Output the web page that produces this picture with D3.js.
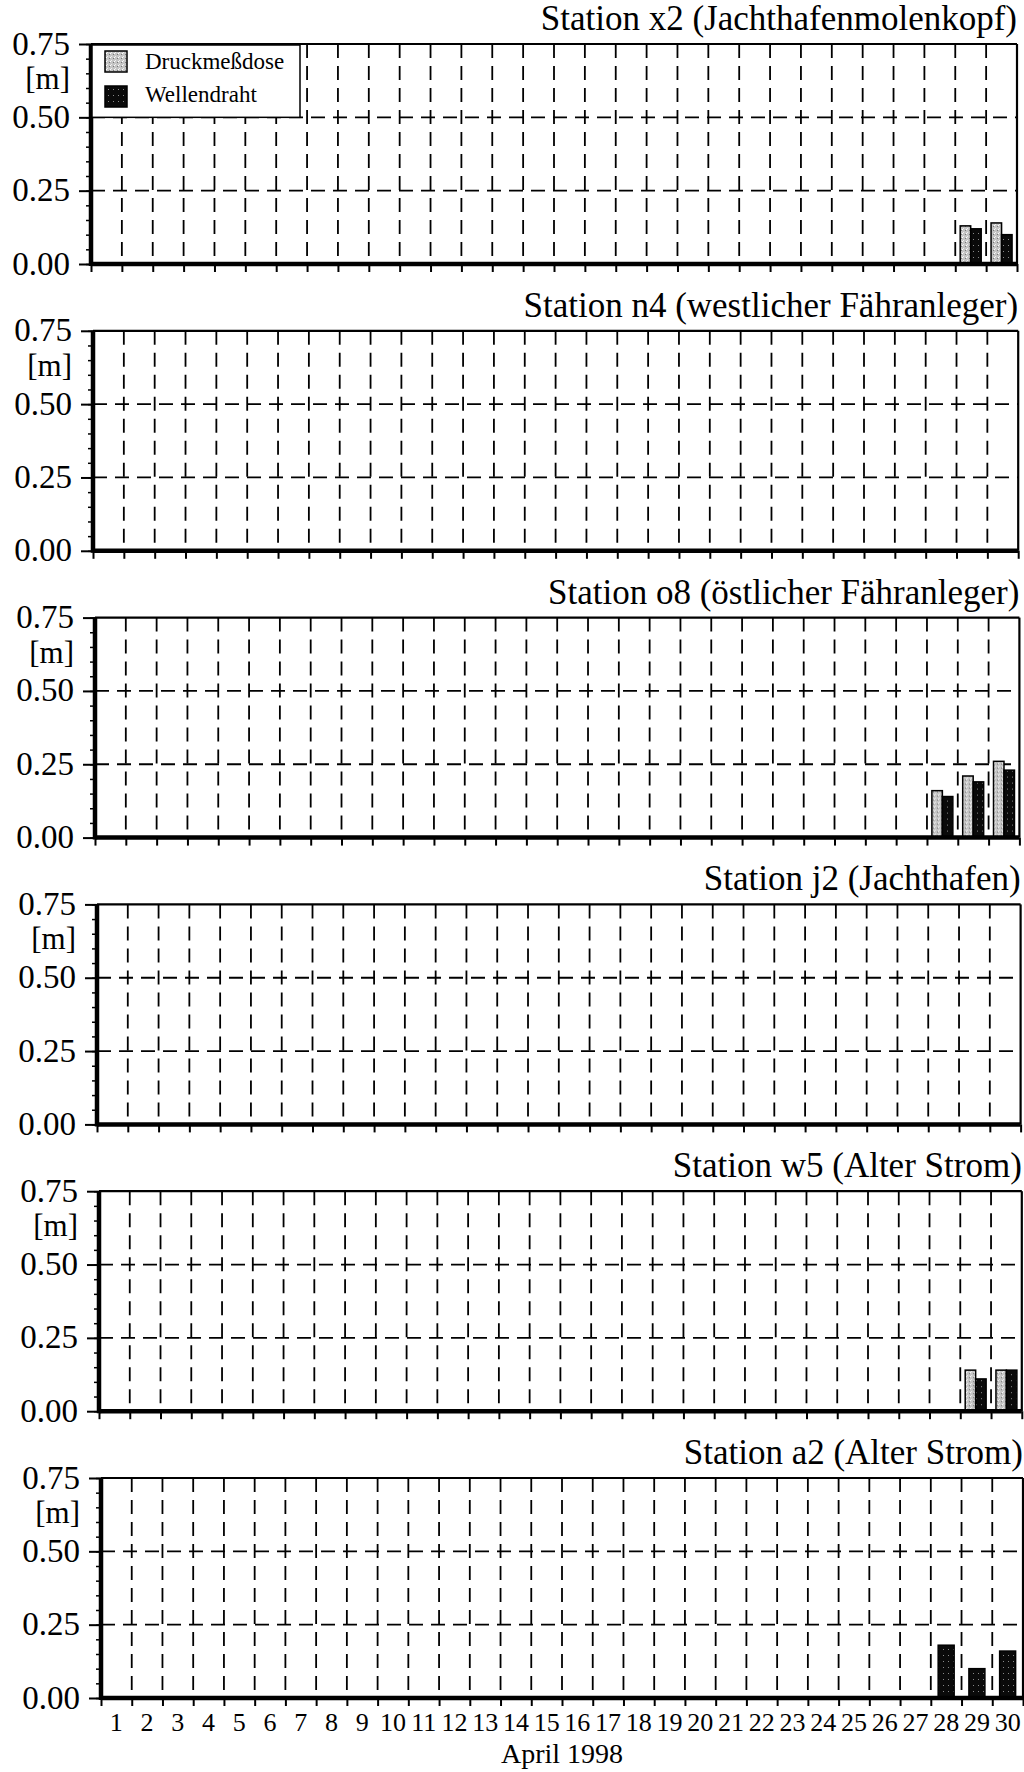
<!DOCTYPE html>
<html>
<head>
<meta charset="utf-8">
<script src="https://cdn.jsdelivr.net/npm/d3@7"></script>
<style>
  body { margin: 0; background: #fff; }
  svg { display: block; }
  text { font-family: "Liberation Serif", "Times New Roman", serif; fill: #000; }
</style>
</head>
<body>
<svg id="chart"></svg>
<script>
// days of April 1998
const days = d3.range(1, 31);
const barDays = [28, 29, 30];

const stations = [
    "Station x2 (Jachthafenmolenkopf)",
    "Station n4 (westlicher Fähranleger)",
    "Station o8 (östlicher Fähranleger)",
    "Station j2 (Jachthafen)",
    "Station w5 (Alter Strom)",
    "Station a2 (Alter Strom)"
];

// wave heights [m] for days 28, 29, 30 (null = no value)
const druckX2 = [null, 0.13, 0.14];
const drahtX2 = [null, 0.12, 0.10];
const druckN4 = [null, null, null];
const drahtN4 = [null, null, null];
const druckO8 = [0.16, 0.21, 0.26];
const drahtO8 = [0.14, 0.19, 0.23];
const druckJ2 = [null, null, null];
const drahtJ2 = [null, null, null];
const druckW5 = [null, 0.14, 0.14];
const drahtW5 = [null, 0.11, 0.14];
const druckA2 = [null, null, null];
const drahtA2 = [0.18, 0.10, 0.16];

const druck = [druckX2, druckN4, druckO8, druckJ2, druckW5, druckA2];
const draht = [drahtX2, drahtN4, drahtO8, drahtJ2, drahtW5, drahtA2];

const yMajor = [0, 0.25, 0.5, 0.75];
const legendLabels = ["Druckmeßdose", "Wellendraht"];

const width = 1024, height = 1772;
const panelH = 220, firstTop = 44, pitch = 286.8;

const svg = d3.select("#chart").attr("width", width).attr("height", height);
svg.append("rect").attr("width", width).attr("height", height).attr("fill", "#fff");

// stipple patterns
const defs = svg.append("defs");
const pGray = defs.append("pattern").attr("id", "gray").attr("patternUnits", "userSpaceOnUse")
    .attr("width", 4).attr("height", 4);
pGray.append("rect").attr("width", 4).attr("height", 4).attr("fill", "#c4c4c4");
pGray.append("rect").attr("x", 0).attr("y", 0).attr("width", 1).attr("height", 1).attr("fill", "#eee");
pGray.append("rect").attr("x", 2).attr("y", 2).attr("width", 1).attr("height", 1).attr("fill", "#777");
pGray.append("rect").attr("x", 3).attr("y", 1).attr("width", 1).attr("height", 1).attr("fill", "#fff");
const pBlack = defs.append("pattern").attr("id", "black").attr("patternUnits", "userSpaceOnUse")
    .attr("width", 5).attr("height", 6);
pBlack.append("rect").attr("width", 5).attr("height", 6).attr("fill", "#0a0a0a");
pBlack.append("rect").attr("x", 2).attr("y", 3).attr("width", 1).attr("height", 1).attr("fill", "#888");

const dash = "14,8";

stations.forEach((name, i) => {
    const left = 91 + 2 * i;
    const right = 1017 + 1.2 * i;
    const top = firstTop + i * pitch;
    const w = right - left;

    const g = svg.append("g").attr("transform", `translate(${left},${top})`);

    const x = d3.scaleBand().domain(days).range([0, w]);
    const xl = d3.scaleLinear().domain([0.5, 30.5]).range([0, w]);
    const y = d3.scaleLinear().domain([0, 0.75]).range([panelH, 0]);
    const xs = d3.scaleBand().domain(["druck", "draht"]).range([0, x.bandwidth()])
        .paddingInner(0).paddingOuter(0.47);

    // grid
    g.selectAll(".hgrid").data([0.25, 0.5]).join("line")
        .attr("x1", 0).attr("x2", w)
        .attr("y1", d => y(d)).attr("y2", d => y(d))
        .attr("stroke", "#000").attr("stroke-width", 1.8).attr("stroke-dasharray", dash);
    g.selectAll(".vgrid").data(d3.range(1.5, 30, 1)).join("line")
        .attr("x1", d => xl(d)).attr("x2", d => xl(d))
        .attr("y1", 0).attr("y2", panelH)
        .attr("stroke", "#000").attr("stroke-width", 1.8).attr("stroke-dasharray", dash);

    // frame top / right
    g.append("line").attr("x1", 0).attr("x2", w).attr("y1", 0).attr("y2", 0)
        .attr("stroke", "#000").attr("stroke-width", 2.2);
    g.append("line").attr("x1", w).attr("x2", w).attr("y1", 0).attr("y2", panelH)
        .attr("stroke", "#000").attr("stroke-width", 2.2);

    // bars
    const bars = [];
    barDays.forEach((d, k) => {
        const a = druck[i][k], b = draht[i][k];
        if (a != null) bars.push({day: d, key: "druck", v: a, single: b == null});
        if (b != null) bars.push({day: d, key: "draht", v: b, single: a == null});
    });
    const singleW = x.bandwidth() * 0.52;
    g.selectAll(".bar").data(bars).join("rect")
        .attr("x", d => d.single ? x(d.day) + (x.bandwidth() - singleW) / 2 : x(d.day) + xs(d.key))
        .attr("width", d => d.single ? singleW : xs.bandwidth())
        .attr("y", d => y(d.v))
        .attr("height", d => y(0) - y(d.v))
        .attr("fill", d => d.key === "druck" ? "url(#gray)" : "url(#black)")
        .attr("stroke", "#000").attr("stroke-width", 1.5);

    // bottom ticks
    const xAxis = g.append("g").attr("transform", `translate(0,${panelH})`)
        .call(d3.axisBottom(xl).tickValues(d3.range(0.5, 31, 1)).tickSize(8).tickFormat(""));
    xAxis.select(".domain").remove();
    xAxis.selectAll("line").attr("stroke", "#000").attr("stroke-width", 2);

    // y axis: minor then major ticks
    const yMinor = g.append("g")
        .call(d3.axisLeft(y).tickValues(d3.range(0, 76, 5).map(v => v / 100)).tickSize(5).tickFormat(""));
    yMinor.select(".domain").remove();
    yMinor.selectAll("line").attr("stroke-width", 1.5);

    const yAxis = g.append("g")
        .call(d3.axisLeft(y).tickValues(yMajor).tickSize(12).tickPadding(9).tickFormat(d3.format(".2f")));
    yAxis.select(".domain").remove();
    yAxis.selectAll("line").attr("stroke-width", 2);
    yAxis.selectAll("text")
        .style("font-size", "33px")
        .attr("font-family", null)
        .attr("dy", "10px");

    g.append("text").attr("x", -21).attr("y", 45)
        .attr("text-anchor", "end").style("font-size", "31px").text("[m]");

    // thick zero line and left axis
    g.append("line").attr("x1", 0).attr("x2", w).attr("y1", panelH).attr("y2", panelH)
        .attr("stroke", "#000").attr("stroke-width", 4.5);
    g.append("line").attr("x1", 0).attr("x2", 0).attr("y1", 0).attr("y2", panelH + 2)
        .attr("stroke", "#000").attr("stroke-width", 4.5);

    // title
    g.append("text").attr("x", w).attr("y", -14)
        .attr("text-anchor", "end").style("font-size", "35px").text(name);

    // legend in the first panel
    if (i === 0) {
        const lg = g.append("g");
        lg.append("rect").attr("x", 1).attr("y", 1).attr("width", 208).attr("height", y(0.5) - 1)
            .attr("fill", "#fff").attr("stroke", "#000").attr("stroke-width", 1.5);
        legendLabels.forEach((lab, k) => {
            lg.append("rect").attr("x", 14).attr("y", 7 + k * 35).attr("width", 22).attr("height", 21)
                .attr("fill", k === 0 ? "url(#gray)" : "url(#black)")
                .attr("stroke", "#000").attr("stroke-width", 1.5);
            lg.append("text").attr("x", 54).attr("y", 25 + k * 33)
                .style("font-size", "23px").text(lab);
        });
    }

    // day labels under the last panel
    if (i === stations.length - 1) {
        const dAxis = g.append("g").attr("transform", `translate(0,${panelH})`)
            .call(d3.axisBottom(x).tickSize(0).tickPadding(15));
        dAxis.select(".domain").remove();
        dAxis.selectAll("text").style("font-size", "26px").attr("font-family", null);

        g.append("text").attr("x", w / 2).attr("y", panelH + 65)
            .attr("text-anchor", "middle").style("font-size", "28px").text("April 1998");
    }
});
</script>
</body>
</html>
